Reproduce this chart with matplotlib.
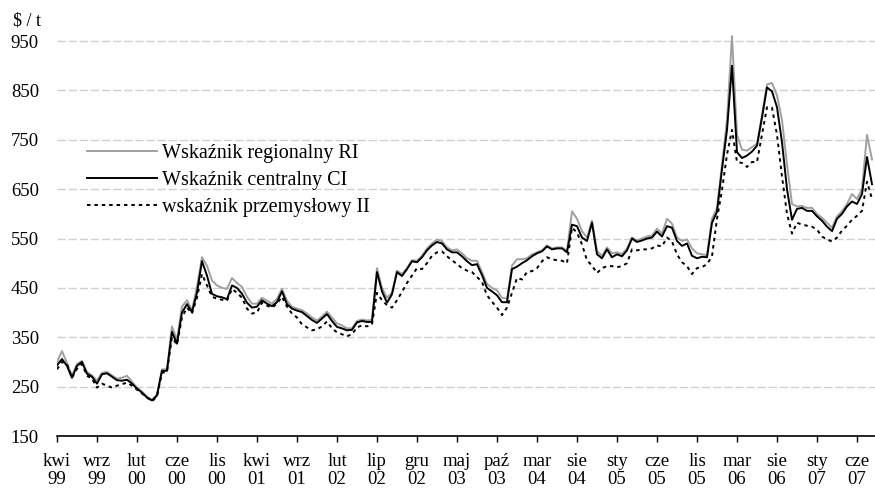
import numpy as np
import matplotlib.pyplot as plt

plt.rcParams['font.family'] = ['Liberation Serif', 'DejaVu Serif']

# Tick labels (every 8th observation)
tick_labels = ['kwi\n99', 'wrz\n99', 'lut\n00', 'cze\n00', 'lis\n00', 'kwi\n01', 'wrz\n01',
               'lut\n02', 'lip\n02', 'gru\n02', 'maj\n03', 'paź\n03', 'mar\n04', 'sie\n04',
               'sty\n05', 'cze\n05', 'lis\n05', 'mar\n06', 'sie\n06', 'sty\n07', 'cze\n07']

# Wskaźnik regionalny RI
ri = [300, 322, 298, 272, 296, 302, 280, 273, 262, 278, 280, 273, 266, 268, 272, 260,
      248, 240, 230, 223, 234, 285, 285, 372, 345, 412, 425, 405, 452, 512, 495, 465,
      455, 450, 448, 470, 460, 452, 432, 418, 418, 430, 424, 418, 428, 448, 424, 412,
      408, 405, 398, 390, 384, 392, 402, 390, 378, 374, 368, 368, 383, 386, 384, 385,
      490, 450, 430, 440, 485, 478, 490, 506, 505, 515, 530, 540, 548, 545, 532, 526,
      528, 520, 510, 505, 505, 482, 458, 450, 445, 430, 428, 495, 508, 508, 510, 518,
      522, 526, 536, 530, 532, 532, 525, 605, 590, 565, 552, 586, 525, 515, 532, 520,
      522, 518, 530, 552, 546, 550, 554, 556, 570, 560, 590, 580, 552, 545, 548, 530,
      520, 518, 516, 590, 612, 700, 790, 960, 760, 730, 728, 735, 742, 800, 862, 865,
      840, 790, 700, 620, 615, 616, 612, 612, 600, 592, 582, 572, 595, 605, 620, 640,
      630, 650, 760, 710]

# Wskaźnik centralny CI
ci = [293, 306, 292, 268, 292, 300, 276, 270, 256, 275, 277, 270, 263, 262, 264, 256,
      246, 238, 228, 222, 232, 282, 282, 361, 337, 400, 417, 401, 440, 504, 475, 438,
      433, 431, 427, 455, 450, 438, 420, 410, 412, 425, 418, 413, 421, 443, 417, 408,
      404, 401, 393, 385, 379, 388, 397, 383, 371, 368, 364, 365, 380, 383, 381, 381,
      482, 443, 420, 437, 482, 474, 488, 504, 502, 512, 526, 536, 543, 540, 528, 522,
      522, 514, 504, 496, 498, 476, 450, 443, 435, 421, 421, 488, 493, 500, 506, 514,
      520, 524, 534, 528, 530, 530, 522, 578, 575, 552, 545, 582, 518, 510, 528, 512,
      518, 514, 526, 550, 543, 546, 550, 552, 564, 554, 575, 572, 545, 535, 540, 515,
      510, 513, 512, 582, 604, 690, 770, 900, 725, 713, 718, 726, 738, 795, 856, 848,
      816, 745, 650, 588, 610, 612, 606, 606, 595, 586, 574, 565, 590, 600, 615, 625,
      620, 640, 715, 660]

# wskaźnik przemysłowy II
ii = [285, 300, 296, 268, 286, 296, 272, 266, 248, 256, 252, 248, 252, 255, 258, 252,
      244, 236, 228, 220, 230, 278, 280, 350, 335, 390, 410, 398, 430, 478, 455, 432,
      428, 426, 424, 448, 440, 430, 408, 398, 400, 420, 414, 410, 418, 432, 412, 398,
      390, 376, 370, 364, 366, 372, 382, 368, 360, 356, 352, 356, 370, 374, 372, 376,
      440, 425, 415, 410, 425, 442, 460, 475, 490, 488, 500, 515, 522, 524, 514, 506,
      498, 490, 485, 482, 472, 462, 435, 422, 410, 395, 410, 440, 470, 467, 482, 484,
      490, 504, 512, 508, 506, 505, 500, 572, 562, 538, 506, 495, 480, 490, 494, 494,
      492, 494, 500, 528, 526, 528, 528, 530, 536, 534, 552, 544, 518, 502, 494, 478,
      490, 492, 498, 514, 590, 648, 720, 770, 705, 703, 695, 705, 705, 760, 816, 815,
      760, 676, 600, 560, 582, 578, 576, 574, 568, 554, 548, 544, 552, 566, 576, 588,
      596, 606, 665, 630]

x = np.arange(len(ci))

fig = plt.figure(figsize=(8.75, 4.9), dpi=100)
ax = fig.add_axes([0.0651, 0.1102, 0.9349, 0.8212])

ax.plot(x, ri, color='#a0a0a0', lw=1.4, label='Wskaźnik regionalny RI')
ax.plot(x, ci, color='black', lw=1.4, label='Wskaźnik centralny CI')
ax.plot(x, ii, color='black', lw=1.4, linestyle=(0, (1.8, 2.0)),
        label='wskaźnik przemysłowy II')

ax.set_ylim(150, 965)
ax.set_yticks(np.arange(150, 951, 100))
ax.set_xlim(0, 163.6)
ax.set_xticks(np.arange(0, len(tick_labels) * 8, 8))
ax.set_xticklabels(tick_labels, fontsize=13.5, linespacing=1.1)

ax.grid(axis='y', color='#d0d0d0', lw=1, linestyle=(0, (6, 2)))
ax.set_axisbelow(True)
for s in ['top', 'right', 'left']:
    ax.spines[s].set_visible(False)
ax.spines['bottom'].set_linewidth(1.2)
ax.tick_params(axis='y', length=0, pad=13, labelsize=13.5)
ax.tick_params(axis='x', direction='out', length=4, width=1, pad=8)

fig.text(0.015, 0.957, '$ / t', fontsize=13, va='center', ha='left')

ax.legend(loc='upper left', bbox_to_anchor=(87 / 875, 1 - 144 / 490),
          bbox_transform=fig.transFigure, frameon=False, fontsize=14.5,
          handlelength=3.5, handletextpad=0.2, labelspacing=0.38, borderpad=0,
          borderaxespad=0)

fig.savefig('out.png', dpi=100)
